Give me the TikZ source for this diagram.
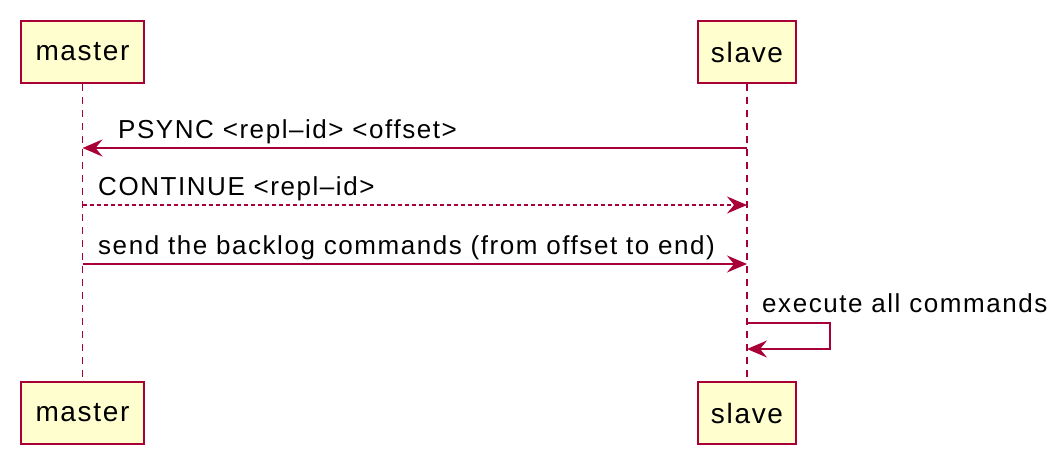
\documentclass[tikz,border=0pt]{standalone}
\usepackage{fontspec}
\setmainfont{Liberation Sans}[LetterSpace=6]
\usetikzlibrary{arrows.meta}
\definecolor{umlred}{HTML}{A80036}
\definecolor{umlfill}{HTML}{FEFECE}
\begin{document}
\begin{tikzpicture}[x=1pt,y=-1pt,
 actor/.style={draw=umlred, fill=umlfill, line width=2.5pt, minimum height=62pt, font=\fontsize{28}{32}\selectfont, inner sep=0pt},
 life/.style={draw=umlred, line width=1.5pt, dash pattern=on 7pt off 6pt},
 msg/.style={draw=umlred, line width=2pt, -{Stealth[length=20pt,width=17pt,inset=7pt]}},
 reply/.style={msg, dash pattern=on 4pt off 3pt},
 lbl/.style={font=\fontsize{26}{30}\selectfont, inner sep=0pt, anchor=base west}]
\useasboundingbox (0,0) rectangle (1062,464);
\node[actor, minimum width=123pt] (mt) at (82.5,52) {master};
\node[actor, minimum width=98pt] (st) at (747,52) {slave};
\node[actor, minimum width=123pt] (mb) at (82.5,413) {master};
\node[actor, minimum width=98pt] (sb) at (747,413) {slave};
\draw[life] (mt.south) -- (mb.north);
\draw[life] (st.south) -- (sb.north);
\coordinate (s1) at (747,148); \coordinate (m1) at (82.5,148);
\coordinate (m2) at (82.5,205); \coordinate (s2) at (747,205);
\coordinate (m3) at (82.5,264); \coordinate (s3) at (747,264);
\coordinate (s4) at (747,323); \coordinate (s5) at (747,349);
\draw[msg] (s1) -- (m1);
\draw[reply] (m2) -- (s2);
\draw[msg] (m3) -- (s3);
\draw[msg] (s4) -- (830,323) -- (830,349) -- (s5);
\node[lbl] (l1) at (118,138) {PSYNC <repl–id> <offset>};
\node[lbl] (l2) at (98,195) {CONTINUE <repl–id>};
\node[lbl] (l3) at (98,254) {send the backlog commands (from offset to end)};
\node[lbl] (l4) at (762,312) {execute all commands};
\end{tikzpicture}
\end{document}
